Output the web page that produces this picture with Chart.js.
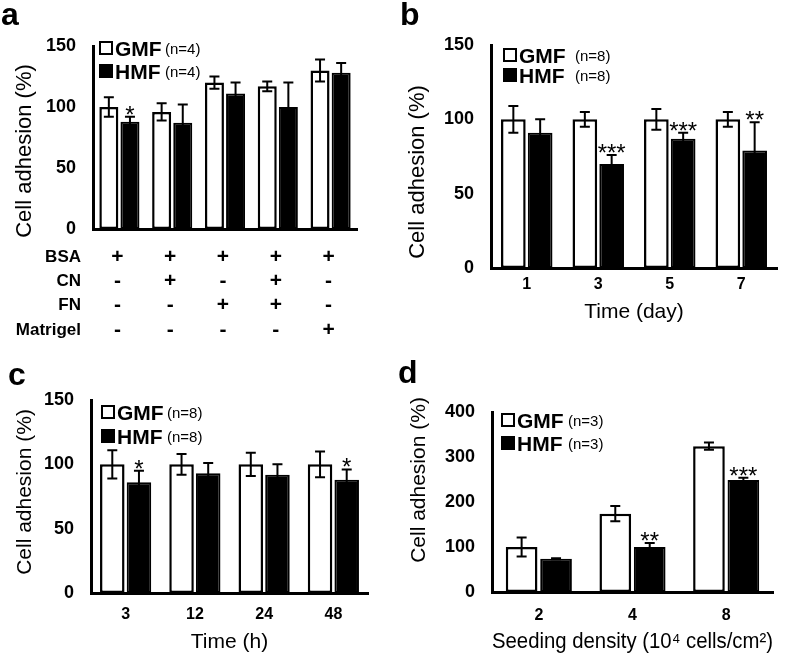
<!DOCTYPE html>
<html>
<head>
<meta charset="utf-8">
<script src="https://cdn.jsdelivr.net/npm/chart.js@4.4.1/dist/chart.umd.min.js"></script>
<style>
  body { margin: 0; background: #fff; }
  #fig { position: relative; width: 787px; height: 656px; font-family: 'Liberation Sans', Arial, sans-serif; }
  #fig canvas { position: absolute; }
  .tag { position: absolute; font-weight: bold; font-size: 32px; line-height: 1; color: #000; }
</style>
</head>
<body>
<div id="fig">
  <canvas id="chartA" width="390" height="340" style="left:0;top:0"></canvas>
  <canvas id="chartB" width="397" height="330" style="left:390px;top:0"></canvas>
  <canvas id="chartC" width="390" height="316" style="left:0;top:340px"></canvas>
  <canvas id="chartD" width="397" height="326" style="left:390px;top:330px"></canvas>
  <div class="tag" style="left:1px;top:-2px">a</div>
  <div class="tag" style="left:400px;top:-2px">b</div>
  <div class="tag" style="left:8px;top:358px">c</div>
  <div class="tag" style="left:398px;top:356px">d</div>
</div>

<script>
// --- panel a: coating conditions ---
const conditionRows = ['BSA', 'CN', 'FN', 'Matrigel'];
const conditionSigns = [
  ['+', '+', '+', '+', '+'],
  ['-', '+', '-', '+', '-'],
  ['-', '-', '+', '+', '-'],
  ['-', '-', '-', '-', '+']
];
const labelsA = ['BSA', 'BSA+CN', 'BSA+FN', 'BSA+CN+FN', 'BSA+Matrigel'];
const gmfA = [100, 96, 120, 117, 130];
const gmfErrA = [8, 7, 5, 4, 9];
const hmfA = [88, 87, 111, 100, 128];
const hmfErrA = [4, 15, 9, 20, 8];
const starsA = ['*', '', '', '', ''];

// --- panel b: time in days ---
const labelsB = ['1', '3', '5', '7'];
const gmfB = [100, 100, 100, 100];
const gmfErrB = [9, 5, 7, 5];
const hmfB = [91, 70, 87, 79];
const hmfErrB = [9, 6, 4, 19];
const starsB = ['', '***', '***', '**'];

// --- panel c: time in hours ---
const labelsC = ['3', '12', '24', '48'];
const gmfC = [100, 100, 100, 100];
const gmfErrC = [11, 8, 9, 10];
const hmfC = [86, 93, 92, 88];
const hmfErrC = [9, 8, 8, 8];
const starsC = ['*', '', '', '*'];

// --- panel d: seeding density ---
const labelsD = ['2', '4', '8'];
const gmfD = [100, 174, 324];
const gmfErrD = [21, 17, 8];
const hmfD = [74, 100, 249];
const hmfErrD = [1, 9, 5];
const starsD = ['', '**', '***'];

const FONT = "'Liberation Sans', Arial, sans-serif";
Chart.defaults.font.family = FONT;
Chart.defaults.color = '#000';

// error bars, stars, legend, y title and the condition table
const panelDecor = {
  id: 'panelDecor',
  afterDatasetsDraw(chart, args, opts) {
    const ctx = chart.ctx;
    const ys = chart.scales.y;
    ctx.save();
    ctx.strokeStyle = '#000';
    ctx.fillStyle = '#000';
    ctx.lineWidth = 2;
    chart.data.datasets.forEach((ds, i) => {
      chart.getDatasetMeta(i).data.forEach((bar, j) => {
        const v = ds.data[j], e = ds.errors[j];
        const top = ys.getPixelForValue(v + e);
        const bot = ys.getPixelForValue(v - e);
        if (e) {
          ctx.beginPath();
          ctx.moveTo(bar.x, top); ctx.lineTo(bar.x, bot);
          ctx.moveTo(bar.x - 5, top); ctx.lineTo(bar.x + 5, top);
          ctx.moveTo(bar.x - 5, bot); ctx.lineTo(bar.x + 5, bot);
          ctx.stroke();
        }
        if (ds.stars && ds.stars[j]) {
          ctx.font = '24px ' + FONT;
          ctx.textAlign = 'center';
          ctx.textBaseline = 'alphabetic';
          ctx.fillText(ds.stars[j], bar.x, top + 6);
        }
      });
    });
    ctx.restore();
  },
  afterDraw(chart, args, opts) {
    const ctx = chart.ctx;
    const { left, top, bottom } = chart.chartArea;
    const L = opts.legend;
    ctx.save();
    ctx.textBaseline = 'alphabetic';
    ctx.textAlign = 'left';
    chart.data.datasets.forEach((ds, i) => {
      const cy = top + L.dy + i * L.gap;
      const sx = left + L.dx;
      ctx.fillStyle = ds.backgroundColor;
      ctx.fillRect(sx, cy - 6, 12, 12);
      ctx.strokeStyle = '#000';
      ctx.lineWidth = 2;
      ctx.strokeRect(sx, cy - 6, 12, 12);
      ctx.fillStyle = '#000';
      ctx.font = 'bold 21px ' + FONT;
      ctx.fillText(ds.label, sx + 15, cy + 7.5);
      ctx.font = '15px ' + FONT;
      ctx.fillText('(' + ds.n + ')', sx + 15 + L.nGap, cy + 6);
    });

    const t = opts.yTitle;
    ctx.save();
    ctx.translate(t.cx, t.cy);
    ctx.rotate(-Math.PI / 2);
    ctx.font = t.size + 'px ' + FONT;
    ctx.textAlign = 'center';
    ctx.textBaseline = 'middle';
    ctx.fillText(t.text, 0, 0);
    ctx.restore();

    if (opts.table) {
      const xs = chart.scales.x;
      ctx.textBaseline = 'middle';
      opts.table.rows.forEach((name, r) => {
        const y = bottom + opts.table.first + r * opts.table.step;
        ctx.textAlign = 'right';
        ctx.font = 'bold 17px ' + FONT;
        ctx.fillText(name, left - 12, y);
        ctx.textAlign = 'center';
        ctx.font = 'bold 21px ' + FONT;
        opts.table.signs[r].forEach((s, j) => ctx.fillText(s, xs.getPixelForValue(j) - 2, y));
      });
    }
    ctx.restore();
  }
};

function makePanel(id, p) {
  return new Chart(document.getElementById(id), {
    type: 'bar',
    data: {
      labels: p.labels,
      datasets: [
        { label: 'GMF', n: p.n, data: p.gmf, errors: p.gmfErr,
          backgroundColor: '#fff', borderColor: '#000', borderWidth: 2.5, borderSkipped: false,
          categoryPercentage: p.cp, barPercentage: p.bp },
        { label: 'HMF', n: p.n, data: p.hmf, errors: p.hmfErr, stars: p.stars,
          backgroundColor: '#000', borderColor: '#000', borderWidth: 2, borderSkipped: false,
          categoryPercentage: p.cp, barPercentage: p.bp }
      ]
    },
    options: {
      responsive: false,
      animation: false,
      layout: { padding: { left: 0, top: p.top, right: p.right, bottom: 0 } },
      plugins: {
        legend: { display: false },
        tooltip: { enabled: false },
        panelDecor: { legend: p.legend, yTitle: p.yTitle, table: p.table }
      },
      scales: {
        x: {
          grid: { display: false, drawTicks: false },
          border: { color: '#000', width: 3 },
          ticks: { display: !p.table, padding: p.tickPad, font: { size: 16, weight: 'bold' } },
          title: { display: !!p.xTitle, text: p.xTitle, font: { size: p.xTitleSize || 21 },
                   padding: { top: 0, bottom: p.titlePad } },
          afterFit: s => { s.height = p.xHeight; }
        },
        y: {
          min: 0, max: p.max,
          grid: { display: false, drawTicks: false },
          border: { color: '#000', width: 3 },
          ticks: { stepSize: p.step, padding: 17, font: { size: 18, weight: 'bold' } },
          afterFit: s => { s.width = p.yWidth; }
        }
      }
    },
    plugins: [panelDecor]
  });
}

makePanel('chartA', {
  labels: labelsA, gmf: gmfA, gmfErr: gmfErrA, hmf: hmfA, hmfErr: hmfErrA, stars: starsA, n: 'n=4',
  max: 150, step: 50, top: 46, right: 33, yWidth: 93, xHeight: 111, cp: 0.8, bp: 0.9,
  legend: { dx: 7, dy: 2, gap: 23, nGap: 50 },
  yTitle: { text: 'Cell adhesion (%)', size: 22, cx: 25, cy: 151 },
  table: { rows: conditionRows, signs: conditionSigns, first: 28, step: 24.3 }
});

makePanel('chartB', {
  labels: labelsB, gmf: gmfB, gmfErr: gmfErrB, hmf: hmfB, hmfErr: hmfErrB, stars: starsB, n: 'n=8',
  max: 150, step: 50, top: 45, right: 10, yWidth: 101, xHeight: 62, cp: 0.75, bp: 0.92,
  tickPad: 7, titlePad: 5, xTitle: 'Time (day)',
  legend: { dx: 13, dy: 10, gap: 20, nGap: 56 },
  yTitle: { text: 'Cell adhesion (%)', size: 22, cx: 28, cy: 172 }
});

makePanel('chartC', {
  labels: labelsC, gmf: gmfC, gmfErr: gmfErrC, hmf: hmfC, hmfErr: hmfErrC, stars: starsC, n: 'n=8',
  max: 150, step: 50, top: 60, right: 22, yWidth: 91, xHeight: 63, cp: 0.77, bp: 0.92,
  tickPad: 12, titlePad: 1, xTitle: 'Time (h)',
  legend: { dx: 11, dy: 12, gap: 24, nGap: 50 },
  yTitle: { text: 'Cell adhesion (%)', size: 21, cx: 25, cy: 152 }
});

makePanel('chartD', {
  labels: labelsD, gmf: gmfD, gmfErr: gmfErrD, hmf: hmfD, hmfErr: hmfErrD, stars: starsD, n: 'n=3',
  max: 400, step: 100, top: 82, right: 14, yWidth: 102, xHeight: 64, cp: 0.735, bp: 0.92,
  tickPad: 14, titlePad: 1, xTitle: 'Seeding density (10\u2074 cells/cm\u00B2)', xTitleSize: 22,
  legend: { dx: 10, dy: 8, gap: 23, nGap: 51 },
  yTitle: { text: 'Cell adhesion (%)', size: 21, cx: 29, cy: 150 }
});
</script>
</body>
</html>
